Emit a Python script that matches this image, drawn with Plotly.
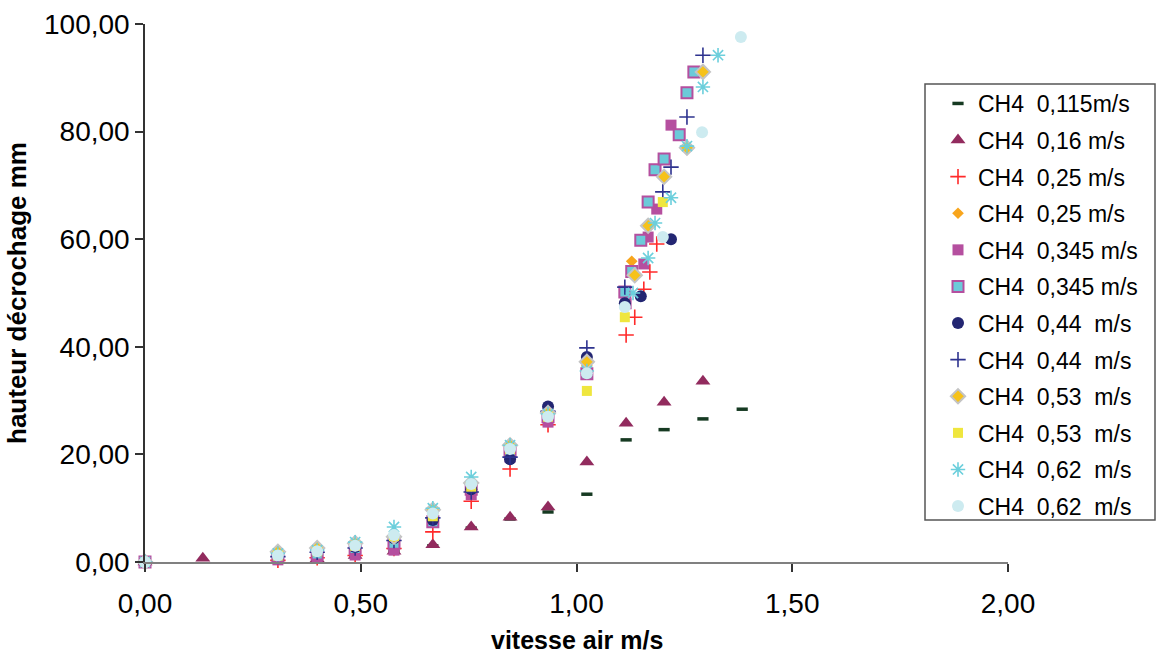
import plotly.graph_objects as go

# ---- data ----
x_s1 = [0, 0.308, 0.399, 0.487, 0.577, 0.667, 0.756, 0.846, 0.934, 1.024, 1.115, 1.203, 1.293, 1.384]
y_s1 = [0, 0.3, 0.6, 1.0, 2.0, 3.0, 6.3, 8.0, 9.3, 12.6, 22.7, 24.6, 26.6, 28.4]

x_s2 = [0, 0.134, 0.308, 0.399, 0.487, 0.577, 0.667, 0.756, 0.846, 0.934, 1.024, 1.115, 1.203, 1.293]
y_s2 = [0, 0.7, 0.3, 0.6, 1.2, 2.0, 3.2, 6.5, 8.3, 10.2, 18.6, 25.8, 29.7, 33.6]

x_s3 = [0, 0.308, 0.399, 0.487, 0.577, 0.667, 0.756, 0.846, 0.934, 1.115, 1.135, 1.156, 1.170, 1.186]
y_s3 = [0, 0.3, 0.8, 1.2, 2.5, 5.6, 11.3, 17.3, 25.5, 42.2, 45.5, 50.7, 53.9, 59.1]

x_s4 = [0, 0.308, 0.399, 0.487, 0.577, 0.667, 0.756, 0.846, 0.934, 1.024, 1.128]
y_s4 = [0, 1.5, 2.3, 3.2, 4.6, 9.0, 14.5, 21.0, 27.5, 36.5, 55.9]

x_s5 = [0, 0.308, 0.399, 0.487, 0.577, 0.667, 0.756, 0.846, 0.934, 1.024, 1.115, 1.156, 1.166, 1.186, 1.219]
y_s5 = [0, 0.4, 0.9, 1.3, 2.2, 7.8, 12.5, 19.5, 26.0, 35.0, 48.0, 55.4, 60.4, 65.6, 81.2]

x_s6 = [0, 0.308, 0.399, 0.487, 0.577, 0.667, 0.756, 0.846, 0.934, 1.024, 1.112, 1.128, 1.149, 1.166, 1.182, 1.203, 1.238, 1.256, 1.272]
y_s6 = [0, 1.0, 1.5, 2.5, 3.5, 7.5, 13.5, 20.5, 27.0, 35.0, 50.2, 54.0, 59.8, 66.9, 72.9, 74.9, 79.4, 87.2, 91.1]

x_s7 = [0, 0.308, 0.399, 0.487, 0.577, 0.667, 0.756, 0.846, 0.934, 1.024, 1.112, 1.149, 1.219]
y_s7 = [0, 1.3, 2.2, 2.8, 4.4, 7.8, 13.5, 19.1, 28.9, 38.1, 48.1, 49.4, 60.0]

x_s8 = [0, 0.308, 0.399, 0.487, 0.577, 0.667, 0.756, 0.846, 0.934, 1.024, 1.112, 1.200, 1.219, 1.256, 1.293]
y_s8 = [0, 1.0, 1.8, 2.6, 4.0, 8.2, 13.0, 19.5, 28.0, 39.8, 51.1, 68.8, 73.4, 82.7, 94.2]

x_s9 = [0, 0.308, 0.399, 0.487, 0.577, 0.667, 0.756, 0.846, 0.934, 1.024, 1.135, 1.166, 1.203, 1.256, 1.293]
y_s9 = [0, 1.9, 2.6, 3.5, 4.7, 9.7, 14.7, 21.7, 27.7, 37.2, 53.3, 62.5, 71.6, 77.0, 91.1]

x_s10 = [0, 0.308, 0.399, 0.487, 0.577, 0.667, 0.756, 0.846, 0.934, 1.024, 1.112, 1.200]
y_s10 = [0, 1.2, 2.0, 3.0, 4.8, 8.5, 14.0, 21.0, 27.0, 31.8, 45.5, 66.9]

x_s11 = [0, 0.308, 0.399, 0.487, 0.577, 0.667, 0.756, 0.846, 0.934, 1.024, 1.131, 1.166, 1.182, 1.219, 1.256, 1.293, 1.328]
y_s11 = [0, 1.6, 2.2, 3.7, 6.5, 10.0, 15.8, 21.7, 27.5, 35.5, 50.0, 56.5, 63.0, 67.7, 77.3, 88.3, 94.2]

x_s12 = [0, 0.308, 0.399, 0.487, 0.577, 0.667, 0.756, 0.846, 0.934, 1.024, 1.112, 1.200, 1.291, 1.381]
y_s12 = [0, 1.2, 2.0, 3.0, 5.0, 9.0, 14.5, 21.0, 27.0, 35.1, 47.4, 60.4, 79.9, 97.6]

x_title = "vitesse air m/s"
y_title = "hauteur décrochage mm"

NB = "\u00a0"
series_names = [
    "CH4" + NB * 2 + "0,115m/s",
    "CH4" + NB * 2 + "0,16 m/s",
    "CH4" + NB * 2 + "0,25 m/s",
    "CH4" + NB * 2 + "0,25 m/s",
    "CH4" + NB * 2 + "0,345 m/s",
    "CH4" + NB * 2 + "0,345 m/s",
    "CH4" + NB * 2 + "0,44" + NB * 2 + "m/s",
    "CH4" + NB * 2 + "0,44" + NB * 2 + "m/s",
    "CH4" + NB * 2 + "0,53" + NB * 2 + "m/s",
    "CH4" + NB * 2 + "0,53" + NB * 2 + "m/s",
    "CH4" + NB * 2 + "0,62" + NB * 2 + "m/s",
    "CH4" + NB * 2 + "0,62" + NB * 2 + "m/s",
]

xs = [x_s1, x_s2, x_s3, x_s4, x_s5, x_s6, x_s7, x_s8, x_s9, x_s10, x_s11, x_s12]
ys = [y_s1, y_s2, y_s3, y_s4, y_s5, y_s6, y_s7, y_s8, y_s9, y_s10, y_s11, y_s12]

markers = [
    dict(symbol="line-ew", size=8, line=dict(color="#163a22", width=3.5), color="#163a22"),
    dict(symbol="triangle-up", size=13, color="#922b5e", line=dict(width=0)),
    dict(symbol="cross-thin", size=11, line=dict(color="#ff2a2a", width=1.6), color="#ff2a2a"),
    dict(symbol="diamond", size=9, color="#f8a51c", line=dict(width=0)),
    dict(symbol="square", size=11, color="#b54f9f", line=dict(width=0)),
    dict(symbol="square", size=11, color="#6ccad9", line=dict(color="#b54f9f", width=2)),
    dict(symbol="circle", size=12, color="#232672", line=dict(width=0)),
    dict(symbol="cross-thin", size=11, line=dict(color="#2e338f", width=1.6), color="#2e338f"),
    dict(symbol="diamond", size=11, color="#f6c21a", line=dict(color="#c4c4c4", width=2)),
    dict(symbol="square", size=10, color="#efe63e", line=dict(width=0)),
    dict(symbol="asterisk-open", size=12, line=dict(color="#6ccfdc", width=1.6), color="#6ccfdc"),
    dict(symbol="circle", size=12, color="#cdebf0", line=dict(width=0)),
]

fig = go.Figure()
for i in range(12):
    fig.add_trace(go.Scatter(
        x=xs[i], y=ys[i], mode="markers", name=series_names[i],
        marker=markers[i], cliponaxis=False, legendgroup="g%d" % i,
    ))

fig.update_layout(
    width=1157, height=654,
    margin=dict(l=145, r=149, t=24, b=92, autoexpand=False),
    paper_bgcolor="white", plot_bgcolor="white",
    separators=",.",
    font=dict(family="Liberation Sans, Arial, sans-serif", color="black"),
    xaxis=dict(
        range=[0, 2], tickvals=[0, 0.5, 1, 1.5, 2], tickformat=".2f",
        showgrid=False, zeroline=False, showline=True, linecolor="#808080", linewidth=1.5,
        ticks="outside", ticklen=8, tickcolor="#333", tickwidth=1.5,
        tickfont=dict(size=28), automargin=False, ticklabelstandoff=8,
    ),
    yaxis=dict(
        range=[0, 100], tickvals=[0, 20, 40, 60, 80, 100], tickformat=".2f",
        showgrid=False, zeroline=False, showline=True, linecolor="#333", linewidth=1.5,
        ticks="outside", ticklen=8, tickcolor="#333", tickwidth=1.5,
        tickfont=dict(size=28), automargin=False,
        title=dict(text="<b>" + y_title + "</b>", font=dict(size=26), standoff=10),
    ),
    legend=dict(
        x=(938 - 145) / 863, xanchor="left",
        y=(562 - 82) / 538, yanchor="top",
        font=dict(size=23), bgcolor="rgba(0,0,0,0)", borderwidth=0,
        tracegroupgap=3.7, itemwidth=30,
    ),
    showlegend=True,
)

fig.add_annotation(text="<b>" + x_title + "</b>", xref="paper", yref="paper",
                   x=0.5, y=(562 - 640) / 538, xanchor="center", yanchor="middle",
                   showarrow=False, borderpad=0, font=dict(size=25, color="black"))

fig.add_shape(type="rect", xref="paper", yref="paper",
              x0=(925 - 145) / 863, x1=(1155 - 145) / 863,
              y0=(562 - 520) / 538, y1=(562 - 84) / 538,
              line=dict(color="#555555", width=1.5), fillcolor="rgba(0,0,0,0)", layer="below")

fig.write_html("out.html", config={"displayModeBar": False},
               post_script="document.body.style.margin='0';document.body.style.overflow='hidden';")
